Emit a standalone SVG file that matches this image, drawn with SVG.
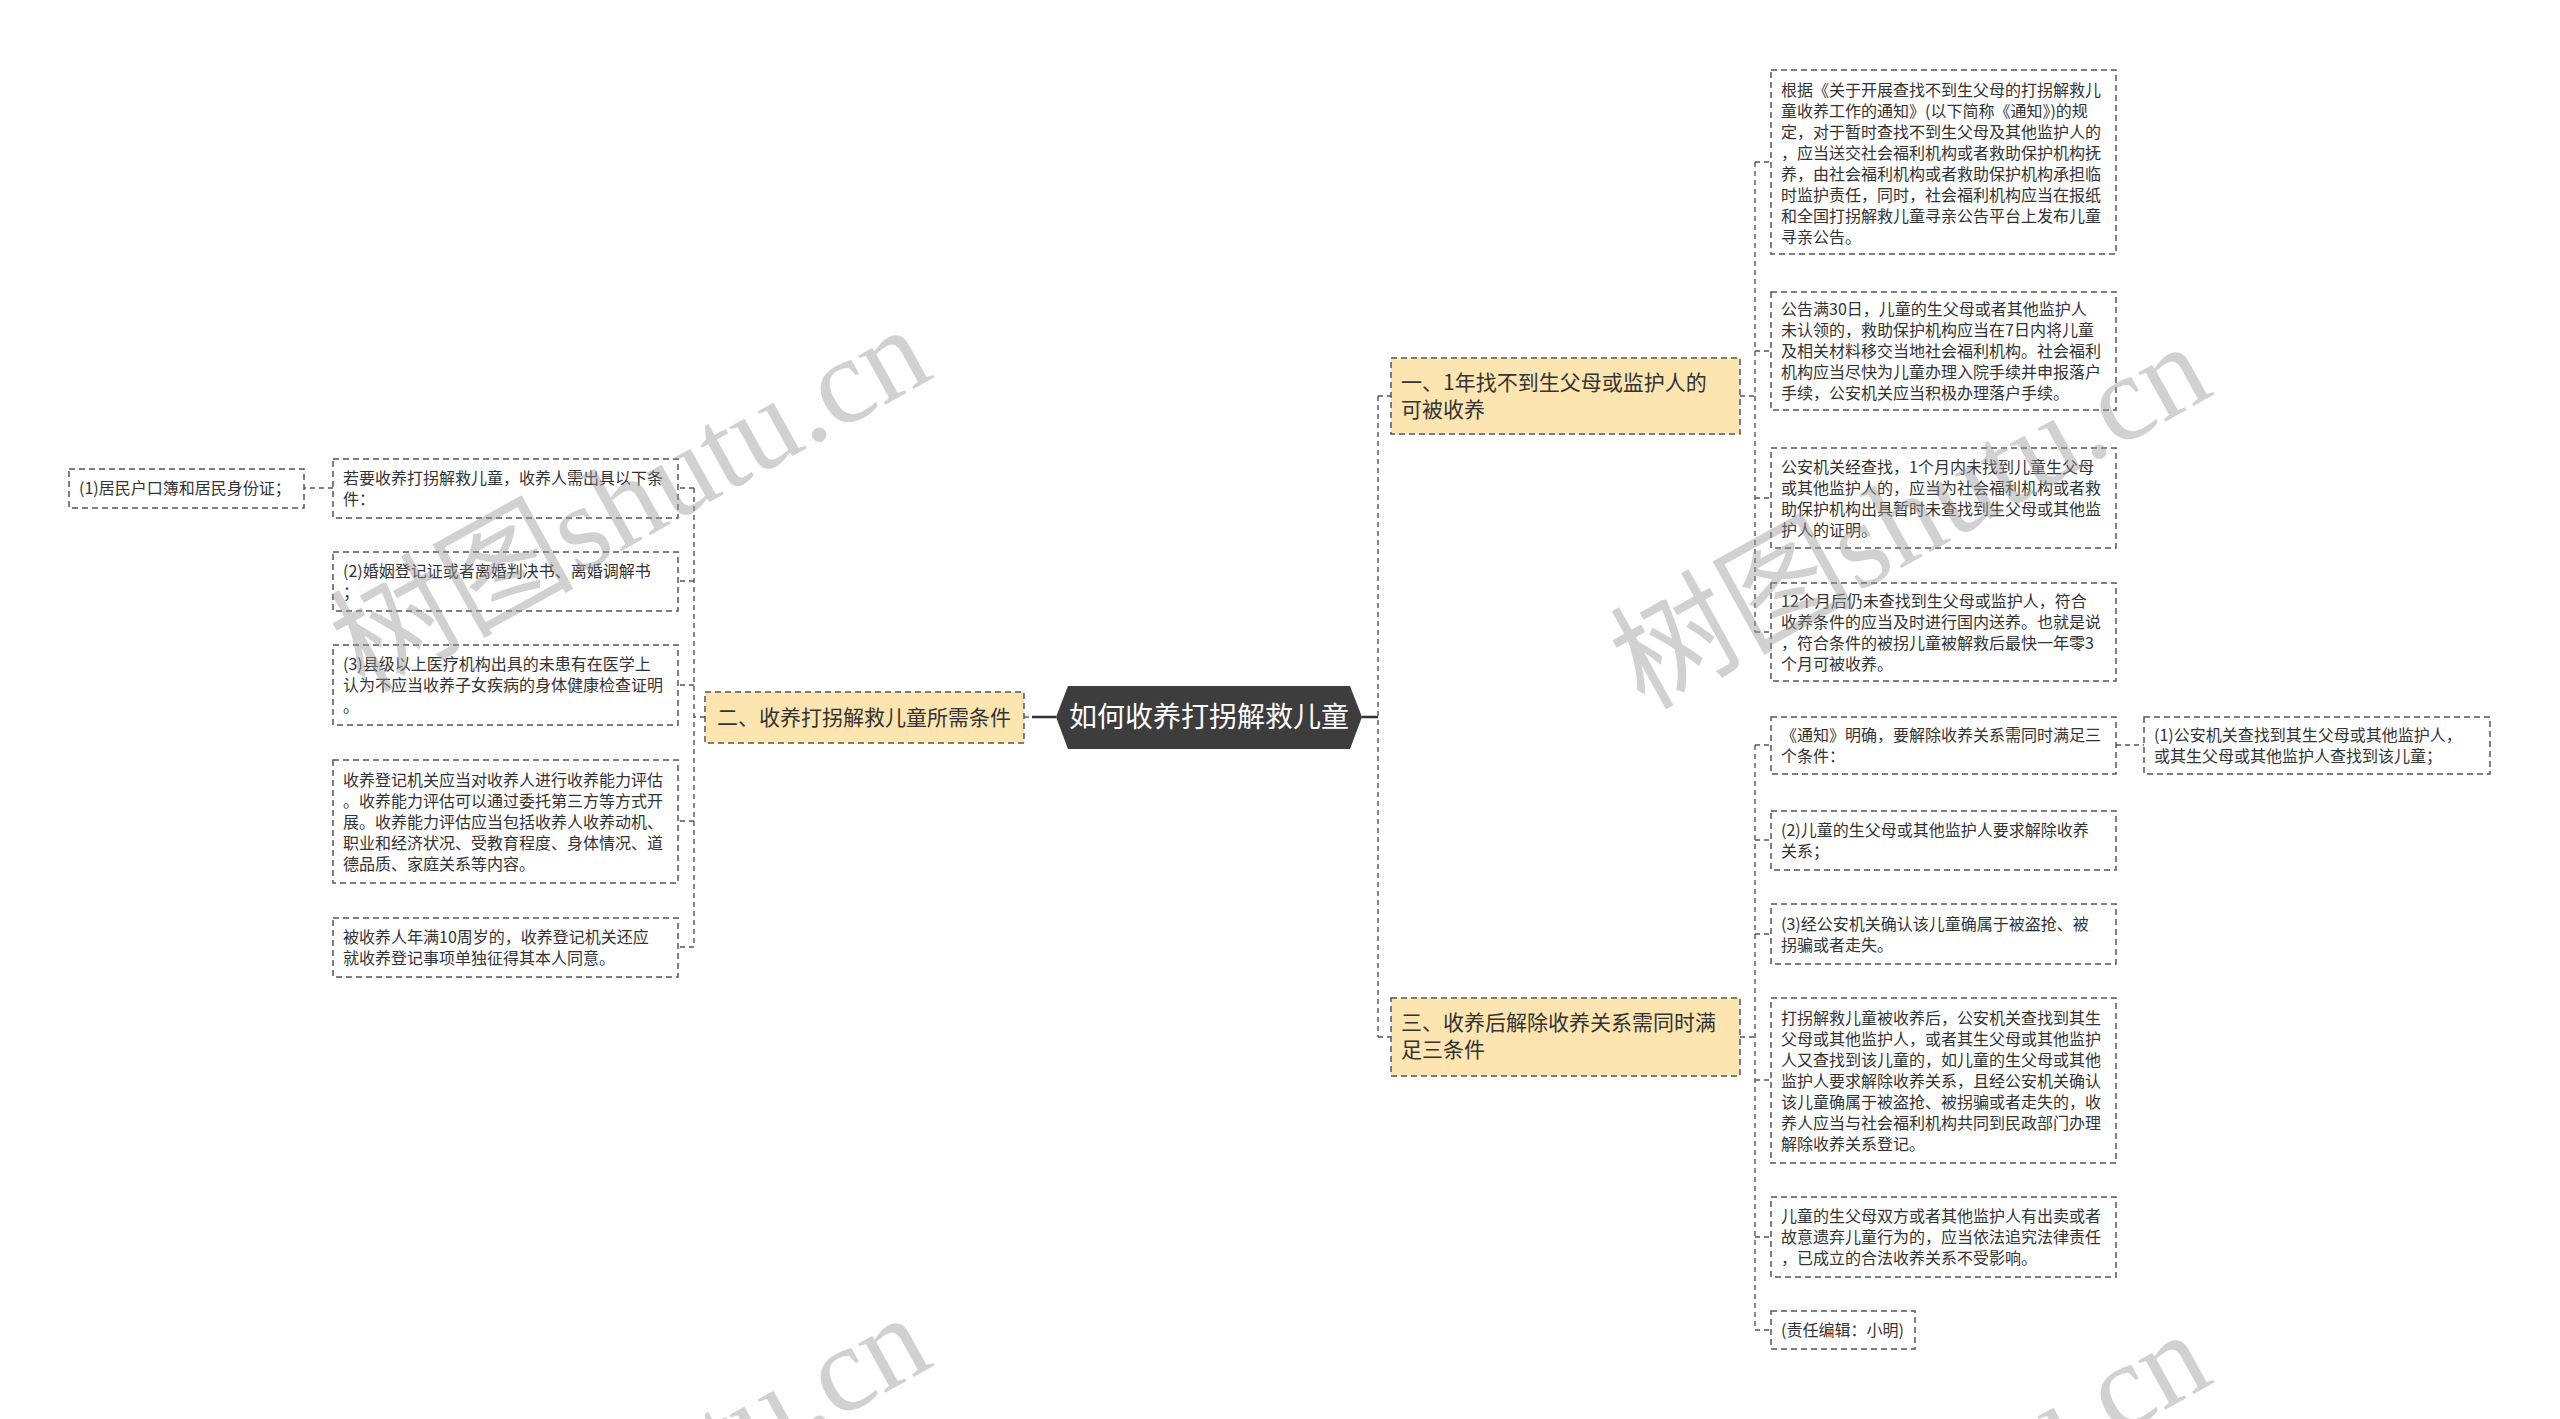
<svg xmlns="http://www.w3.org/2000/svg" width="2560" height="1419" viewBox="0 0 2560 1419">
<defs>
<style>
.leaf{fill:#ffffff;stroke:#555555;stroke-width:1.5;stroke-dasharray:6 4}
.branch{fill:#FCE5B1;stroke:#555555;stroke-width:1.5;stroke-dasharray:6 4}
.t{font-family:"Noto Sans CJK SC","Noto Sans",sans-serif;font-size:16px;fill:#333333}
.bt{font-family:"Noto Sans CJK SC","Noto Sans",sans-serif;font-size:21px;fill:#333333}
.ct{font-family:"Noto Sans CJK SC","Noto Sans",sans-serif;font-size:28px;fill:#ffffff}
.c{fill:none;stroke:#555555;stroke-width:1.4;stroke-dasharray:5 4}
.cs{fill:none;stroke:#333333;stroke-width:2.5}
.wm{font-family:"Liberation Serif","Noto Sans CJK SC",serif;font-size:122px;fill:#9a9a9a;opacity:0.45}
</style>
</defs>
<rect x="0" y="0" width="2560" height="1419" fill="#ffffff"/>

<g id="connectors">
  <line class="cs" x1="1362" y1="717" x2="1378" y2="717"/>
  <line class="c" x1="1378" y1="396" x2="1378" y2="1037"/>
  <line class="c" x1="1378" y1="396" x2="1391" y2="396"/>
  <line class="c" x1="1378" y1="1037" x2="1391" y2="1037"/>
  <line class="cs" x1="1032" y1="717" x2="1056" y2="717"/>
  <line class="c" x1="1024" y1="717" x2="1032" y2="717"/>
  <line class="c" x1="1740" y1="396" x2="1755" y2="396"/>
  <line class="c" x1="1755" y1="162" x2="1755" y2="632"/>
  <line class="c" x1="1755" y1="162" x2="1771" y2="162"/>
  <line class="c" x1="1755" y1="351" x2="1771" y2="351"/>
  <line class="c" x1="1755" y1="498" x2="1771" y2="498"/>
  <line class="c" x1="1755" y1="632" x2="1771" y2="632"/>
  <line class="c" x1="1740" y1="1037" x2="1755" y2="1037"/>
  <line class="c" x1="1755" y1="745" x2="1755" y2="1330"/>
  <line class="c" x1="1755" y1="745" x2="1771" y2="745"/>
  <line class="c" x1="1755" y1="840" x2="1771" y2="840"/>
  <line class="c" x1="1755" y1="934" x2="1771" y2="934"/>
  <line class="c" x1="1755" y1="1080" x2="1771" y2="1080"/>
  <line class="c" x1="1755" y1="1237" x2="1771" y2="1237"/>
  <line class="c" x1="1755" y1="1330" x2="1771" y2="1330"/>
  <line class="c" x1="2116" y1="745" x2="2144" y2="745"/>
  <line class="c" x1="705" y1="717" x2="694" y2="717"/>
  <line class="c" x1="694" y1="488" x2="694" y2="947"/>
  <line class="c" x1="694" y1="488" x2="678" y2="488"/>
  <line class="c" x1="694" y1="581" x2="678" y2="581"/>
  <line class="c" x1="694" y1="685" x2="678" y2="685"/>
  <line class="c" x1="694" y1="821" x2="678" y2="821"/>
  <line class="c" x1="694" y1="947" x2="678" y2="947"/>
  <line class="c" x1="333" y1="488" x2="304" y2="488"/>
</g>

<g id="central">
  <polygon points="1056,717 1068,686 1350,686 1362,717 1350,749 1068,749" fill="#3D3D3D"/>
  <text class="ct" x="1209" y="727" text-anchor="middle">如何收养打拐解救儿童</text>
</g>

<g id="branch1">
  <rect class="branch" x="1391" y="358" width="349" height="76"/>
  <text class="bt" x="1401"><tspan x="1401" y="390">一、1年找不到生父母或监护人的</tspan><tspan x="1401" y="417">可被收养</tspan></text>
</g>
<g id="branch2">
  <rect class="branch" x="705" y="692" width="319" height="51"/>
  <text class="bt" x="717" y="725">二、收养打拐解救儿童所需条件</text>
</g>
<g id="branch3">
  <rect class="branch" x="1391" y="998" width="349" height="78"/>
  <text class="bt" x="1401"><tspan x="1401" y="1030">三、收养后解除收养关系需同时满</tspan><tspan x="1401" y="1057">足三条件</tspan></text>
</g>

<g id="leafA">
  <rect class="leaf" x="1771" y="70" width="345" height="184"/>
  <text class="t"><tspan x="1781" y="96">根据《关于开展查找不到生父母的打拐解救儿</tspan><tspan x="1781" dy="21">童收养工作的通知》(以下简称《通知》)的规</tspan><tspan x="1781" dy="21">定，对于暂时查找不到生父母及其他监护人的</tspan><tspan x="1781" dy="21">，应当送交社会福利机构或者救助保护机构抚</tspan><tspan x="1781" dy="21">养，由社会福利机构或者救助保护机构承担临</tspan><tspan x="1781" dy="21">时监护责任，同时，社会福利机构应当在报纸</tspan><tspan x="1781" dy="21">和全国打拐解救儿童寻亲公告平台上发布儿童</tspan><tspan x="1781" dy="21">寻亲公告。</tspan></text>
</g>
<g id="leafB">
  <rect class="leaf" x="1771" y="292" width="345" height="118"/>
  <text class="t"><tspan x="1781" y="315">公告满30日，儿童的生父母或者其他监护人</tspan><tspan x="1781" dy="21">未认领的，救助保护机构应当在7日内将儿童</tspan><tspan x="1781" dy="21">及相关材料移交当地社会福利机构。社会福利</tspan><tspan x="1781" dy="21">机构应当尽快为儿童办理入院手续并申报落户</tspan><tspan x="1781" dy="21">手续，公安机关应当积极办理落户手续。</tspan></text>
</g>
<g id="leafC">
  <rect class="leaf" x="1771" y="448" width="345" height="100"/>
  <text class="t"><tspan x="1781" y="473">公安机关经查找，1个月内未找到儿童生父母</tspan><tspan x="1781" dy="21">或其他监护人的，应当为社会福利机构或者救</tspan><tspan x="1781" dy="21">助保护机构出具暂时未查找到生父母或其他监</tspan><tspan x="1781" dy="21">护人的证明。</tspan></text>
</g>
<g id="leafD">
  <rect class="leaf" x="1771" y="583" width="345" height="98"/>
  <text class="t"><tspan x="1781" y="607">12个月后仍未查找到生父母或监护人，符合</tspan><tspan x="1781" dy="21">收养条件的应当及时进行国内送养。也就是说</tspan><tspan x="1781" dy="21">，符合条件的被拐儿童被解救后最快一年零3</tspan><tspan x="1781" dy="21">个月可被收养。</tspan></text>
</g>
<g id="leafE">
  <rect class="leaf" x="1771" y="717" width="345" height="57"/>
  <text class="t"><tspan x="1781" y="741">《通知》明确，要解除收养关系需同时满足三</tspan><tspan x="1781" dy="21">个条件：</tspan></text>
</g>
<g id="leafF">
  <rect class="leaf" x="2144" y="717" width="346" height="57"/>
  <text class="t"><tspan x="2154" y="741">(1)公安机关查找到其生父母或其他监护人，</tspan><tspan x="2154" dy="21">或其生父母或其他监护人查找到该儿童；</tspan></text>
</g>
<g id="leafG">
  <rect class="leaf" x="1771" y="811" width="345" height="59"/>
  <text class="t"><tspan x="1781" y="836">(2)儿童的生父母或其他监护人要求解除收养</tspan><tspan x="1781" dy="21">关系；</tspan></text>
</g>
<g id="leafH">
  <rect class="leaf" x="1771" y="904" width="345" height="60"/>
  <text class="t"><tspan x="1781" y="930">(3)经公安机关确认该儿童确属于被盗抢、被</tspan><tspan x="1781" dy="21">拐骗或者走失。</tspan></text>
</g>
<g id="leafI">
  <rect class="leaf" x="1771" y="998" width="345" height="165"/>
  <text class="t"><tspan x="1781" y="1024">打拐解救儿童被收养后，公安机关查找到其生</tspan><tspan x="1781" dy="21">父母或其他监护人，或者其生父母或其他监护</tspan><tspan x="1781" dy="21">人又查找到该儿童的，如儿童的生父母或其他</tspan><tspan x="1781" dy="21">监护人要求解除收养关系，且经公安机关确认</tspan><tspan x="1781" dy="21">该儿童确属于被盗抢、被拐骗或者走失的，收</tspan><tspan x="1781" dy="21">养人应当与社会福利机构共同到民政部门办理</tspan><tspan x="1781" dy="21">解除收养关系登记。</tspan></text>
</g>
<g id="leafJ">
  <rect class="leaf" x="1771" y="1197" width="345" height="80"/>
  <text class="t"><tspan x="1781" y="1222">儿童的生父母双方或者其他监护人有出卖或者</tspan><tspan x="1781" dy="21">故意遗弃儿童行为的，应当依法追究法律责任</tspan><tspan x="1781" dy="21">，已成立的合法收养关系不受影响。</tspan></text>
</g>
<g id="leafK">
  <rect class="leaf" x="1771" y="1311" width="144" height="38"/>
  <text class="t" x="1781" y="1336">(责任编辑：小明)</text>
</g>

<g id="leftL0">
  <rect class="leaf" x="69" y="469" width="235" height="39"/>
  <text class="t" x="79" y="494">(1)居民户口簿和居民身份证；</text>
</g>
<g id="leftL1">
  <rect class="leaf" x="333" y="459" width="345" height="59"/>
  <text class="t"><tspan x="343" y="484">若要收养打拐解救儿童，收养人需出具以下条</tspan><tspan x="343" dy="21">件：</tspan></text>
</g>
<g id="leftL2">
  <rect class="leaf" x="333" y="552" width="345" height="59"/>
  <text class="t"><tspan x="343" y="577">(2)婚姻登记证或者离婚判决书、离婚调解书</tspan><tspan x="343" dy="21">；</tspan></text>
</g>
<g id="leftL3">
  <rect class="leaf" x="333" y="645" width="345" height="80"/>
  <text class="t"><tspan x="343" y="670">(3)县级以上医疗机构出具的未患有在医学上</tspan><tspan x="343" dy="21">认为不应当收养子女疾病的身体健康检查证明</tspan><tspan x="343" dy="21">。</tspan></text>
</g>
<g id="leftL4">
  <rect class="leaf" x="333" y="760" width="345" height="123"/>
  <text class="t"><tspan x="343" y="786">收养登记机关应当对收养人进行收养能力评估</tspan><tspan x="343" dy="21">。收养能力评估可以通过委托第三方等方式开</tspan><tspan x="343" dy="21">展。收养能力评估应当包括收养人收养动机、</tspan><tspan x="343" dy="21">职业和经济状况、受教育程度、身体情况、道</tspan><tspan x="343" dy="21">德品质、家庭关系等内容。</tspan></text>
</g>
<g id="leftL5">
  <rect class="leaf" x="333" y="918" width="345" height="59"/>
  <text class="t"><tspan x="343" y="943">被收养人年满10周岁的，收养登记机关还应</tspan><tspan x="343" dy="21">就收养登记事项单独征得其本人同意。</tspan></text>
</g>

<g id="watermarks">
  <text class="wm" transform="translate(650,535) rotate(-29)" text-anchor="middle">树图shutu.cn</text>
  <text class="wm" transform="translate(1930,552) rotate(-29)" text-anchor="middle">树图shutu.cn</text>
  <text class="wm" transform="translate(650,1523) rotate(-29)" text-anchor="middle">树图shutu.cn</text>
  <text class="wm" transform="translate(1930,1540) rotate(-29)" text-anchor="middle">树图shutu.cn</text>
</g>
</svg>
